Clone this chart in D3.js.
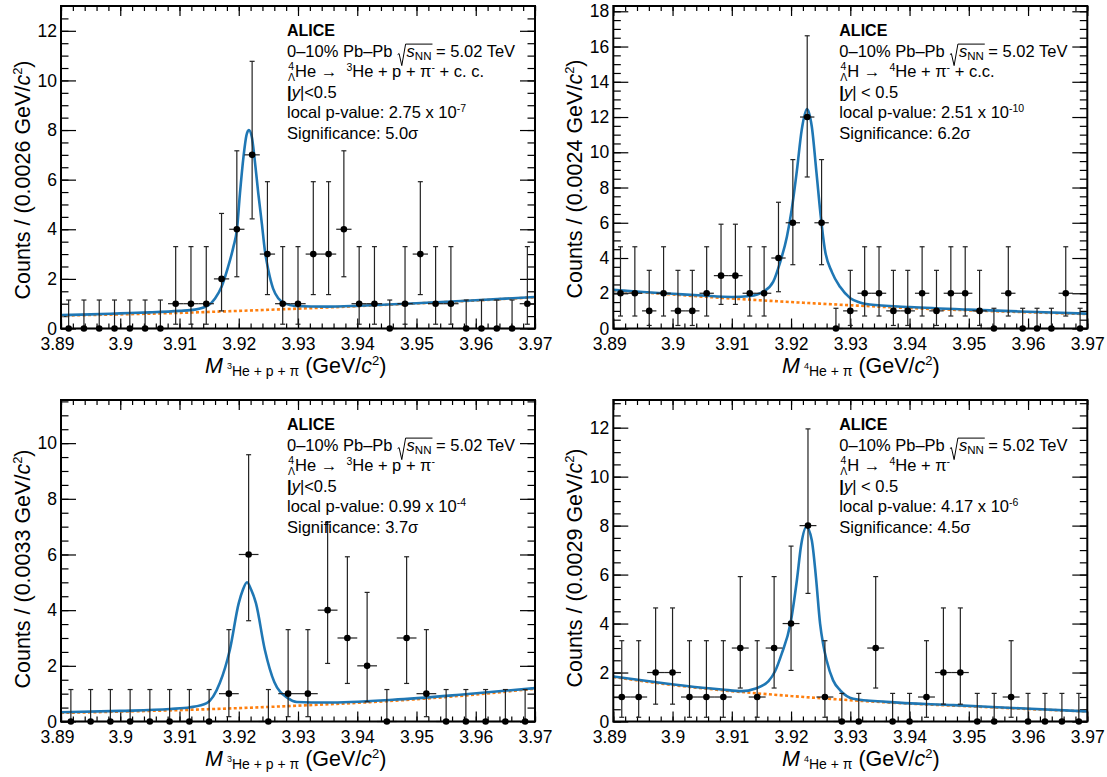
<!DOCTYPE html>
<html>
<head>
<meta charset="utf-8">
<title>ALICE hypernuclei invariant mass</title>
<script src="https://cdn.jsdelivr.net/npm/d3@7/dist/d3.min.js"></script>
<style>
  body { margin: 0; background: #fff; }
  svg { display: block; font-family: "Liberation Sans", Arial, Helvetica, sans-serif; }
  text { white-space: pre; }
</style>
</head>
<body>
<svg id="chart" width="1107" height="777"></svg>
<script>
/* data */

var xMin = 3.89, xMax = 3.97;
var xTicks = [3.89, 3.90, 3.91, 3.92, 3.93, 3.94, 3.95, 3.96, 3.97];
var xTickLabels = ["3.89", "3.9", "3.91", "3.92", "3.93", "3.94", "3.95", "3.96", "3.97"];

var yTicksTL = [0, 2, 4, 6, 8, 10, 12];
var yTicksTR = [0, 2, 4, 6, 8, 10, 12, 14, 16, 18];
var yTicksBL = [0, 2, 4, 6, 8, 10];
var yTicksBR = [0, 2, 4, 6, 8, 10, 12];

// entries per mass bin (equal bins from xMin to xMax)
var countsTL = [0,0,0,0,0,0,0,1,1,1,2,4,7,3,1,1,3,3,4,1,1,0,1,3,1,1,0,0,0,0,1];
var countsTR = [2,2,1,2,1,1,2,3,3,2,2,4,6,12,6,0,1,2,2,1,1,2,1,2,2,1,0,2,0,0,0,2,0];
var countsBL = [0,0,0,0,0,0,0,0,1,6,0,1,1,4,3,2,0,3,1,0,0,0,0,0];
var countsBR = [1,1,2,2,1,1,1,3,1,3,4,8,1,0,0,3,0,0,1,2,2,0,0,1,0,0,0,0];

// 68% poisson interval ends, indexed by count
var poissonLow  = [0, 0.173, 0.708, 1.367, 2.086, 2.840, 3.620, 4.419, 5.232, 6.057, 6.891, 7.734, 8.598];
var poissonHigh = [1.148, 3.300, 4.638, 5.918, 7.163, 8.382, 9.584, 10.77, 11.95, 13.15, 14.27, 15.42, 16.61];

// fit curves: [mass, counts]
var fitTL = [[3.8900,0.54],[3.8950,0.57],[3.9000,0.61],[3.9050,0.65],[3.9100,0.71],[3.9126,0.76],[3.9149,0.94],
  [3.9160,1.21],[3.9171,1.68],[3.9182,2.48],[3.9191,3.29],[3.9197,4.00],[3.9202,5.44],[3.9208,6.92],[3.9213,7.79],
  [3.9217,8.00],[3.9222,7.73],[3.9227,6.79],[3.9233,5.44],[3.9239,4.23],[3.9244,3.16],[3.9250,2.35],[3.9258,1.61],
  [3.9267,1.21],[3.9278,1.01],[3.9295,0.91],[3.9350,0.88],[3.9405,0.92],[3.9500,1.02],[3.9600,1.14],[3.9700,1.27]];
var bkgTL = [[3.89,0.52],[3.90,0.57],[3.91,0.63],[3.92,0.71],[3.93,0.80],[3.94,0.90],[3.95,1.01],[3.96,1.13],[3.97,1.26]];

var fitTR = [[3.8900,2.19],[3.8950,2.07],[3.9000,1.97],[3.9050,1.87],[3.9100,1.79],[3.9131,1.84],[3.9153,2.09],
  [3.9170,2.66],[3.9181,3.70],[3.9193,5.21],[3.9201,6.73],[3.9210,9.00],[3.9218,11.27],[3.9227,12.45],[3.9235,11.46],
  [3.9243,8.81],[3.9250,6.40],[3.9257,4.50],[3.9269,3.20],[3.9283,2.35],[3.9300,1.72],[3.9316,1.48],[3.9333,1.36],
  [3.9400,1.22],[3.9500,1.07],[3.9600,0.95],[3.9700,0.84]];
var bkgTR = [[3.89,2.17],[3.90,1.93],[3.91,1.70],[3.92,1.50],[3.93,1.32],[3.94,1.16],[3.95,1.03],[3.96,0.92],[3.97,0.82]];

var fitBL = [[3.8900,0.33],[3.9000,0.38],[3.9084,0.45],[3.9118,0.51],[3.9146,0.66],[3.9168,1.38],[3.9185,2.58],
  [3.9200,4.25],[3.9207,4.73],[3.9214,5.00],[3.9221,4.73],[3.9229,4.25],[3.9244,2.58],[3.9260,1.42],[3.9283,0.84],
  [3.9298,0.70],[3.9348,0.68],[3.9460,0.78],[3.9573,0.96],[3.9700,1.20]];
var bkgBL = [[3.89,0.31],[3.90,0.355],[3.91,0.41],[3.92,0.48],[3.93,0.57],[3.94,0.67],[3.95,0.80],[3.96,0.97],[3.97,1.18]];

var fitBR = [[3.8900,1.84],[3.8970,1.61],[3.9027,1.44],[3.9083,1.31],[3.9117,1.24],[3.9139,1.34],[3.9162,1.65],
  [3.9173,2.05],[3.9184,2.75],[3.9199,4.00],[3.9210,5.80],[3.9217,7.20],[3.9226,7.95],[3.9235,7.40],[3.9242,5.90],
  [3.9249,4.00],[3.9254,3.18],[3.9260,2.50],[3.9271,1.68],[3.9283,1.27],[3.9305,0.93],[3.9361,0.80],[3.9474,0.67],
  [3.9586,0.54],[3.9700,0.41]];
var bkgBR = [[3.89,1.82],[3.90,1.49],[3.91,1.24],[3.92,1.04],[3.93,0.87],[3.94,0.73],[3.95,0.62],[3.96,0.51],[3.97,0.41]];

/* text pieces */

var sqrtLine = [{t: "0–10% Pb–Pb "}, {t: "s", it: true, dx: 9.5}, {t: "NN", fs: 11.5, sh: 3.7}, {t: " = 5.02 TeV"}];

function pre(mother) {
  return [{t: "4", fs: 10.5, sh: -6.8, dx: 1}, {t: "Λ", fs: 10.5, sh: 4.2, dx: -6.1}, {t: mother + " →  "}];
}
var decayTL = pre("He").concat([{t: "3", fs: 10.5, sh: -6.3}, {t: "He + p + π"}, {t: "-", fs: 10.5, sh: -6.3}, {t: " + c. c."}]);
var decayTR = pre("H").concat([{t: "4", fs: 10.5, sh: -6.3}, {t: "He + π"}, {t: "-", fs: 10.5, sh: -6.3}, {t: " + c.c."}]);
var decayBL = pre("He").concat([{t: "3", fs: 10.5, sh: -6.3}, {t: "He + p + π"}, {t: "-", fs: 10.5, sh: -6.3}]);
var decayBR = pre("H").concat([{t: "4", fs: 10.5, sh: -6.3}, {t: "He + π"}, {t: "-", fs: 10.5, sh: -6.3}]);

function rapLine(s) { return [{t: "|", b: true}, {t: "y", it: true}, {t: s}]; }
function pLine(v, e) { return [{t: "local p-value: " + v + " x 10"}, {t: e, fs: 10.5, sh: -6.3}]; }

var xTitle3 = [{t: "M", it: true}, {t: "3", fs: 9, sh: -4, dx: 4}, {t: "He + p + π", fs: 14, sh: 3}, {t: " (GeV/"}, {t: "c", it: true}, {t: "2", fs: 13, sh: -8}, {t: ")"}];
var xTitle4 = [{t: "M", it: true}, {t: "4", fs: 9, sh: -4, dx: 4}, {t: "He + π", fs: 14, sh: 3}, {t: " (GeV/"}, {t: "c", it: true}, {t: "2", fs: 13, sh: -8}, {t: ")"}];
function yTitle(w) { return [{t: "Counts / (" + w + " GeV/"}, {t: "c", it: true}, {t: "2", fs: 13, sh: -8}, {t: ")"}]; }

var panels = [
  {left: 61, right: 535, top: 6, bottom: 328.5, ymax: 13.0, yTicks: yTicksTL, counts: countsTL, fit: fitTL, bkg: bkgTL,
   yt: yTitle("0.0026"), ytY: 180, xt: xTitle3, xtX: 205,
   lines: [decayTL, rapLine("|<0.5"), pLine("2.75", "-7"), [{t: "Significance: 5.0σ"}]]},
  {left: 613.3, right: 1087.3, top: 6, bottom: 328.5, ymax: 18.3, yTicks: yTicksTR, counts: countsTR, fit: fitTR, bkg: bkgTR,
   yt: yTitle("0.0024"), ytY: 179, xt: xTitle4, xtX: 782,
   lines: [decayTR, rapLine("| < 0.5"), pLine("2.51", "-10"), [{t: "Significance: 6.2σ"}]]},
  {left: 61, right: 535, top: 400, bottom: 721.5, ymax: 11.55, yTicks: yTicksBL, counts: countsBL, fit: fitBL, bkg: bkgBL,
   yt: yTitle("0.0033"), ytY: 569, xt: xTitle3, xtX: 205,
   lines: [decayBL, rapLine("|<0.5"), pLine("0.99", "-4"), [{t: "Significance: 3.7σ"}]]},
  {left: 613.3, right: 1087.3, top: 400, bottom: 721.5, ymax: 13.13, yTicks: yTicksBR, counts: countsBR, fit: fitBR, bkg: bkgBR,
   yt: yTitle("0.0029"), ytY: 568, xt: xTitle4, xtX: 782,
   lines: [decayBR, rapLine("| < 0.5"), pLine("4.17", "-6"), [{t: "Significance: 4.5σ"}]]}
];

/* draw */

var svg = d3.select("#chart");

function rich(sel, x, y, parts, size, anchor) {
  var t = sel.append("text").attr("x", x).attr("y", y).attr("fill", "#000").style("font-size", size + "px");
  if (anchor) t.attr("text-anchor", anchor);
  var cur = 0;
  parts.forEach(function(p) {
    var sh = p.sh || 0;
    var s = t.append("tspan").text(p.t);
    if (sh !== cur) { s.attr("dy", sh - cur); cur = sh; }
    if (p.dx) s.attr("dx", p.dx);
    if (p.it) s.style("font-style", "italic");
    if (p.b) s.style("font-weight", "bold");
    if (p.fs) s.style("font-size", p.fs + "px");
  });
  return t;
}

function styleAxis(a) {
  a.attr("font-family", null).attr("font-size", null);
  a.select(".domain").remove();
  a.selectAll(".tick line").attr("stroke", "#000").attr("stroke-width", 1.2);
  a.selectAll(".tick text").attr("fill", "#000").style("font-size", "17.5px");
}

panels.forEach(function(p) {
  var w = p.right - p.left, h = p.bottom - p.top;
  var g = svg.append("g").attr("transform", "translate(" + p.left + "," + p.top + ")");
  var x = d3.scaleLinear().domain([xMin, xMax]).range([0, w]);
  var y = d3.scaleLinear().domain([0, p.ymax]).range([h, 0]);

  var xMinor = d3.range(0, 41).map(function(k) { return xMin + k * 0.002; });
  var yMinor = d3.range(0, p.ymax, 0.5);

  // ticks, all pointing into the frame
  g.append("g").attr("transform", "translate(0," + h + ")")
    .call(d3.axisBottom(x).tickValues(xMinor).tickSize(-5).tickFormat("")).call(styleAxis);
  var xb = g.append("g").attr("transform", "translate(0," + h + ")")
    .call(d3.axisBottom(x).tickValues(xTicks).tickSize(-10).tickPadding(9)
      .tickFormat(function(d, i) { return xTickLabels[i]; })).call(styleAxis);
  // first label sits a little left of its tick, as in the original
  xb.selectAll(".tick text").filter(function(d, i) { return i === 0; }).attr("dx", -4);
  g.append("g").call(d3.axisTop(x).tickValues(xMinor).tickSize(-5).tickFormat("")).call(styleAxis);
  g.append("g").call(d3.axisTop(x).tickValues(xTicks).tickSize(-10).tickFormat("")).call(styleAxis);

  g.append("g").call(d3.axisLeft(y).tickValues(yMinor).tickSize(-7.5).tickFormat("")).call(styleAxis);
  g.append("g").call(d3.axisLeft(y).tickValues(p.yTicks).tickSize(-15).tickPadding(4).tickFormat(d3.format("d"))).call(styleAxis);
  g.append("g").attr("transform", "translate(" + w + ",0)")
    .call(d3.axisRight(y).tickValues(yMinor).tickSize(-7.5).tickFormat("")).call(styleAxis);
  g.append("g").attr("transform", "translate(" + w + ",0)")
    .call(d3.axisRight(y).tickValues(p.yTicks).tickSize(-15).tickFormat("")).call(styleAxis);

  // fit: background dashed, total on top
  var line = d3.line().x(function(d) { return x(d[0]); }).y(function(d) { return y(d[1]); }).curve(d3.curveMonotoneX);
  g.append("path").datum(p.bkg).attr("d", line).attr("fill", "none")
    .attr("stroke", "#ff7f0e").attr("stroke-width", 2.6).attr("stroke-dasharray", "3,2.4");
  g.append("path").datum(p.fit).attr("d", line).attr("fill", "none")
    .attr("stroke", "#1f77b4").attr("stroke-width", 2.6);

  // data points with error bars
  var bw = (xMax - xMin) / p.counts.length;
  var pts = p.counts.map(function(c, i) { return {m: xMin + (i + 0.5) * bw, c: c}; });
  var eb = g.append("g").attr("stroke", "#222").attr("stroke-width", 1.2);
  pts.forEach(function(d) {
    var cx = x(d.m), cy = y(d.c), lo = y(poissonLow[d.c]), hi = y(poissonHigh[d.c]);
    eb.append("line").attr("x1", cx).attr("x2", cx).attr("y1", lo).attr("y2", hi);
    eb.append("line").attr("x1", cx - 2.5).attr("x2", cx + 2.5).attr("y1", hi).attr("y2", hi);
    eb.append("line").attr("x1", cx - 2.5).attr("x2", cx + 2.5).attr("y1", lo).attr("y2", lo);
    eb.append("line").attr("x1", x(d.m - bw / 2)).attr("x2", x(d.m + bw / 2)).attr("y1", cy).attr("y2", cy);
  });
  g.append("g").selectAll("circle").data(pts).join("circle")
    .attr("cx", function(d) { return x(d.m); }).attr("cy", function(d) { return y(d.c); })
    .attr("r", 3.3).attr("fill", "#000");

  // frame
  g.append("rect").attr("width", w).attr("height", h).attr("fill", "none").attr("stroke", "#000").attr("stroke-width", 2);

  // axis titles
  rich(svg, p.xtX, p.bottom + 44.5, p.xt, 21.5);
  var yt = rich(svg, p.left - 31, p.ytY, p.yt, 21.5, "middle");
  yt.attr("transform", "rotate(-90," + (p.left - 31) + "," + p.ytY + ")");

  // label block
  var tx = p.left + 226, ty = p.top + 30, lh = 20.6;
  svg.append("text").attr("x", tx).attr("y", ty).style("font-size", "16px").style("font-weight", "bold").text("ALICE");
  var l2 = rich(svg, tx, ty + lh, sqrtLine, 16.5);
  var sx = l2.node().getStartPositionOfChar(12).x;
  var ex = l2.node().getEndPositionOfChar(14).x;
  var by = ty + lh;
  svg.append("path")
    .attr("d", "M" + (sx - 9) + "," + (by - 2) + "L" + (sx - 7.5) + "," + (by - 3) + "L" + (sx - 4.8) + "," + (by + 9)
      + "L" + (sx - 1) + "," + (by - 12.5) + "L" + (ex + 1) + "," + (by - 12.5))
    .attr("fill", "none").attr("stroke", "#000").attr("stroke-width", 1);
  p.lines.forEach(function(parts, i) {
    rich(svg, tx, ty + lh * (i + 2), parts, 16.5);
  });
});
</script>
</body>
</html>
